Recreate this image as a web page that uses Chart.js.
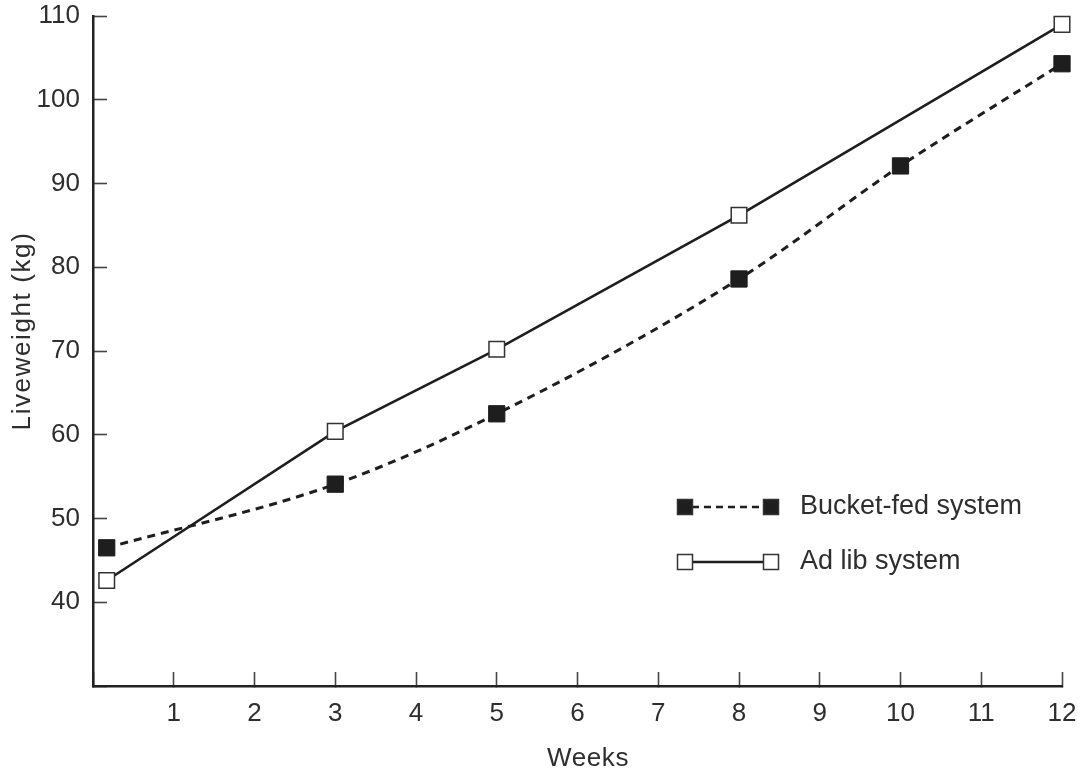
<!DOCTYPE html>
<html>
<head>
<meta charset="utf-8">
<script src="https://cdn.jsdelivr.net/npm/chart.js@4"></script>
<style>
  html, body { margin: 0; padding: 0; background: #fff; }
  #wrap { width: 1084px; height: 771px; position: relative; }
</style>
</head>
<body>
<div id="wrap"><canvas id="c"></canvas></div>
<script>
// ---- data ----
const seriesNames = ['Ad lib system', 'Bucket-fed system'];
const adLibWeeks = [0.17, 3, 5, 8, 12];
const adLibKg = [42.6, 60.4, 70.2, 86.2, 109];
const bucketWeeks = [0.17, 3, 5, 8, 10, 12];
const bucketKg = [46.5, 54.1, 62.5, 78.6, 92.1, 104.3];
const xTitle = 'Weeks';
const yTitle = 'Liveweight (kg)';

const INK = '#1e1e1e';
const TEXT = '#2e2e2e';
const FONT = "'Liberation Sans', Arial, Helvetica, sans-serif";
const FS = 26;

const toPts = (xs, ys) => xs.map((x, i) => ({ x: x, y: ys[i] }));

const overlay = {
  id: 'overlay',
  afterDraw(chart) {
    const ctx = chart.ctx;
    // y-axis title
    ctx.save();
    ctx.fillStyle = TEXT;
    ctx.font = FS + 'px ' + FONT;
    try { ctx.letterSpacing = '1.6px'; } catch (e) {}
    ctx.translate(23, 331);
    ctx.rotate(-Math.PI / 2);
    ctx.textAlign = 'center';
    ctx.textBaseline = 'middle';
    ctx.fillText(yTitle, 0, 0);
    ctx.restore();

    // x-axis title
    ctx.save();
    ctx.fillStyle = TEXT;
    ctx.font = FS + 'px ' + FONT;
    try { ctx.letterSpacing = '0.6px'; } catch (e) {}
    ctx.textAlign = 'center';
    ctx.textBaseline = 'middle';
    ctx.fillText(xTitle, 588, 759);
    ctx.restore();

    // legend
    const rows = [
      { name: seriesNames[1], y: 507, dash: [7, 5], fill: INK },
      { name: seriesNames[0], y: 562, dash: [], fill: '#fff' }
    ];
    rows.forEach(r => {
      ctx.save();
      ctx.strokeStyle = INK;
      ctx.lineWidth = 2.5;
      ctx.setLineDash(r.dash);
      ctx.beginPath();
      ctx.moveTo(692, r.y);
      ctx.lineTo(764, r.y);
      ctx.stroke();
      ctx.setLineDash([]);
      [685, 771].forEach(cx => {
        ctx.fillStyle = r.fill;
        ctx.fillRect(cx - 7.5, r.y - 7.5, 15, 15);
        ctx.lineWidth = 1.5;
        ctx.strokeStyle = '#333';
        ctx.strokeRect(cx - 7.5, r.y - 7.5, 15, 15);
      });
      ctx.fillStyle = TEXT;
      ctx.font = '27px ' + FONT;
      ctx.textAlign = 'left';
      ctx.textBaseline = 'middle';
      ctx.fillText(r.name, 800, r.y);
      ctx.restore();
    });
  }
};

function fixPad(s) {
  s.paddingTop = 0; s.paddingBottom = 0; s.paddingLeft = 0; s.paddingRight = 0;
}

new Chart(document.getElementById('c'), {
  type: 'scatter',
  data: {
    datasets: [
      {
        label: seriesNames[0],
        data: toPts(adLibWeeks, adLibKg),
        showLine: true,
        borderColor: INK,
        borderWidth: 2.6,
        pointStyle: 'rect',
        pointRadius: 11,
        pointHoverRadius: 11,
        pointBackgroundColor: '#fff',
        pointBorderColor: '#333',
        pointBorderWidth: 1.5,
        tension: 0,
        clip: false
      },
      {
        label: seriesNames[1],
        data: toPts(bucketWeeks, bucketKg),
        showLine: true,
        borderColor: INK,
        borderWidth: 3,
        borderDash: [8, 6],
        pointStyle: 'rect',
        pointRadius: 11.5,
        pointHoverRadius: 11.5,
        pointBackgroundColor: INK,
        pointBorderColor: INK,
        pointBorderWidth: 1,
        cubicInterpolationMode: 'monotone',
        clip: false
      }
    ]
  },
  options: {
    responsive: true,
    maintainAspectRatio: false,
    animation: false,
    layout: { padding: { left: 0, right: 22, top: 16, bottom: 0 } },
    plugins: { legend: { display: false }, tooltip: { enabled: false } },
    scales: {
      x: {
        type: 'linear',
        min: 0, max: 12,
        afterFit(s) { s.height = 85; fixPad(s); },
        border: { display: true, color: '#222', width: 2.5 },
        grid: { drawOnChartArea: false, drawTicks: true, tickLength: -14, tickWidth: 1.6, tickColor: '#444' },
        ticks: {
          stepSize: 1, autoSkip: false, maxRotation: 0, padding: 26,
          color: TEXT, font: { family: FONT, size: FS },
          callback: v => (v === 0 ? '' : String(v))
        },
        title: { display: false }
      },
      y: {
        type: 'linear',
        min: 30, max: 110,
        afterFit(s) { s.width = 93; fixPad(s); },
        border: { display: true, color: '#222', width: 2.5 },
        grid: { drawOnChartArea: false, drawTicks: true, tickLength: -14, tickWidth: 1.6, tickColor: '#444' },
        ticks: {
          stepSize: 10, autoSkip: false, padding: 27,
          color: TEXT, font: { family: FONT, size: FS },
          callback: v => (v === 30 ? '' : String(v))
        },
        title: { display: false }
      }
    }
  },
  plugins: [overlay]
});
</script>
</body>
</html>
